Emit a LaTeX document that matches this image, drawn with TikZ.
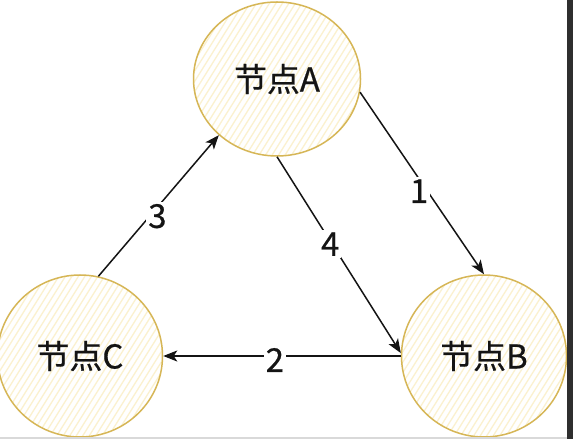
\documentclass[tikz,border=0pt]{standalone}
\usepackage{fontspec}
\setmainfont{Noto Sans CJK SC}
\newfontfamily\lblfont{Noto Sans CJK SC}[FakeBold=0.6]
\usetikzlibrary{arrows.meta,shapes.geometric}
\definecolor{strokeY}{HTML}{D6B656}
\definecolor{hatchY}{HTML}{FBF1CF}
\definecolor{ink}{HTML}{141414}
\tikzset{
  nodeball/.style={ellipse, draw=strokeY, line width=1.5bp, fill=white, inner sep=0pt,
    font=\lblfont\fontsize{33}{36}\selectfont, text=ink,
    path picture={
      \foreach \i in {-22,...,34} {
        \draw[hatchY, line width=1.3bp] ([xshift=\i*6.5bp]path picture bounding box.south west) -- ++(58:260bp);
      }}},
  conn/.style={draw=ink, line width=1.5bp, -{Stealth[length=14bp, width=11bp, inset=3.5bp]}},
  lbl/.style={fill=white, inner sep=2bp, text=ink, font=\lblfont\fontsize{33}{36}\selectfont}
}
\begin{document}
\begin{tikzpicture}[x=1bp, y=-1bp]
\useasboundingbox (0,0) rectangle (573,439);
\fill[white] (0,0) rectangle (573,439);
\node[nodeball, minimum width=167bp, minimum height=154bp] (A) at (277,79) {节点A};
\node[nodeball, minimum width=165bp, minimum height=162bp] (B) at (484,356) {节点B};
\node[nodeball, minimum width=165bp, minimum height=162bp] (C) at (80,356) {节点C};
\draw[conn] (A.-9) -- node[lbl, pos=0.5, xshift=-3bp, yshift=-8bp] {1} (B.90);
\draw[conn] (A.-90) -- node[lbl, pos=0.43, yshift=-3bp] {4} (B.178);
\draw[conn] (B.180) -- node[lbl, pos=0.53, yshift=-4bp] {2} (C.0);
\draw[conn] (C.77) -- node[lbl, pos=0.49, yshift=-9bp] {3} (A.224);
\fill[black!82] (567,0) rectangle (573,439);
\fill[black!15] (0,437) rectangle (567,439);
\end{tikzpicture}
\end{document}
